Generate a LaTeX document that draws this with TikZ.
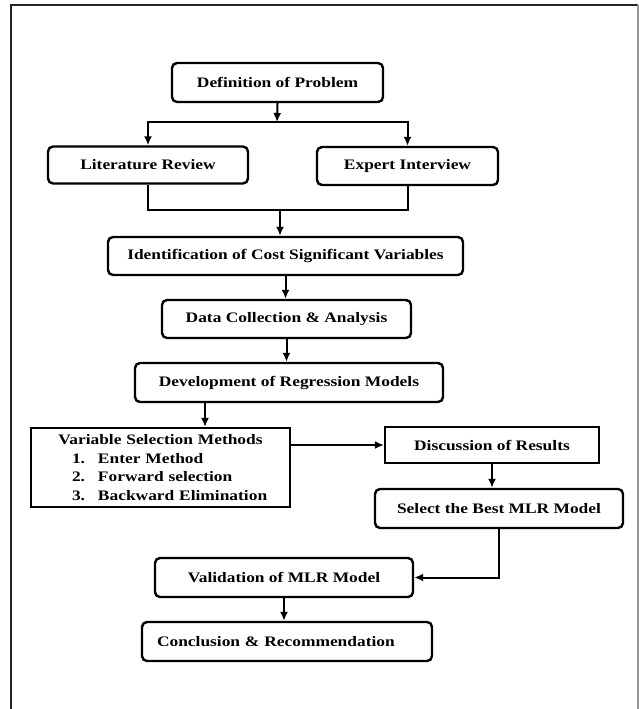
\documentclass[tikz,border=0pt]{standalone}
\usepackage{fontspec}
\usetikzlibrary{calc,arrows.meta}
\newfontfamily\flowfont{Liberation Serif}[FakeStretch=1.2]

\begin{document}
\begin{tikzpicture}[x=1pt,y=-1pt]
\tikzstyle{box}=[draw, rectangle, rounded corners=5pt, line width=2.4pt, inner sep=0pt, minimum height=38pt, align=center]
\tikzstyle{sqbox}=[draw, rectangle, line width=2.2pt, inner sep=0pt, align=center]
\tikzstyle{arr}=[-{Latex[length=9pt,width=8pt]}, line width=2pt]
\tikzstyle{link}=[line width=2pt]
\tikzset{every node/.style={font=\flowfont\bfseries\fontsize{14.5}{18.5}\selectfont}}

\useasboundingbox (0,0) rectangle (639,709);

% page frame
\draw[line width=2pt, black!85] (11,712) -- (11,5) -- (638,5);
\draw[line width=1.2pt, black!40] (638,5) -- (638,712);

% top: problem and the two sources
\node[box, minimum width=211pt, minimum height=39pt] (prob) at (277.5,82.5) {Definition of Problem};
\node[box, minimum width=200pt, minimum height=37pt] (lit) at (148,165) {Literature Review};
\node[box, minimum width=181pt] (expert) at (407.5,166) {Expert Interview};
\coordinate (split) at (277,122);
\coordinate (merge) at (280,210);

% main column
\node[box, minimum width=355pt] (ident) at (285.5,256) {Identification of Cost Significant Variables};
\node[box, minimum width=249pt] (data) at (286.5,319) {Data Collection \& Analysis};
\node[box, minimum width=308pt, minimum height=39pt] (dev) at (289,382.5) {Development of Regression Models};
\coordinate (devout) at ($(dev.south)+(-84,0)$);

% variable selection and results
\node[sqbox, minimum width=259pt, minimum height=79pt, text width=230pt, inner xsep=14.5pt, align=left] (vsm) at (160.5,467.5) {\makebox[230pt]{Variable Selection Methods}\\
\hspace*{26.5pt}\makebox[26pt][l]{1.}Enter Method\\
\hspace*{26.5pt}\makebox[26pt][l]{2.}Forward selection\\
\hspace*{26.5pt}\makebox[26pt][l]{3.}Backward Elimination};
\node[sqbox, minimum width=214pt, minimum height=36pt] (disc) at (492,445) {Discussion of Results};
\node[box, minimum width=248pt, minimum height=39pt] (best) at (499,508.5) {Select the Best MLR Model};

% validation and conclusion
\node[box, minimum width=258pt, minimum height=39pt] (valid) at (284,577.5) {Validation of MLR Model};
\node[box, minimum height=39pt, text width=260pt, align=left, inner xsep=15pt] (concl) at (287,641.5) {Conclusion \& Recommendation};

% connectors
\draw[arr] (prob.south) -- (split);
\draw[arr] (split) -| (lit.north);
\draw[arr] (split) -| (expert.north);
\draw[link] (lit.south) |- (merge) -| (expert.south);
\draw[arr] (merge) -- (merge |- ident.north);
\draw[arr] (ident.south) -- (ident.south |- data.north);
\draw[arr] (data.south) -- (data.south |- dev.north);
\draw[arr] (devout) -- (devout |- vsm.north);
\draw[arr] (vsm.east |- disc.west) -- (disc.west);
\draw[arr] (disc.south) -- (disc.south |- best.north);
\draw[arr] (best.south) |- (valid.east);
\draw[arr] (valid.south) -- (valid.south |- concl.north);

\end{tikzpicture}
\end{document}
